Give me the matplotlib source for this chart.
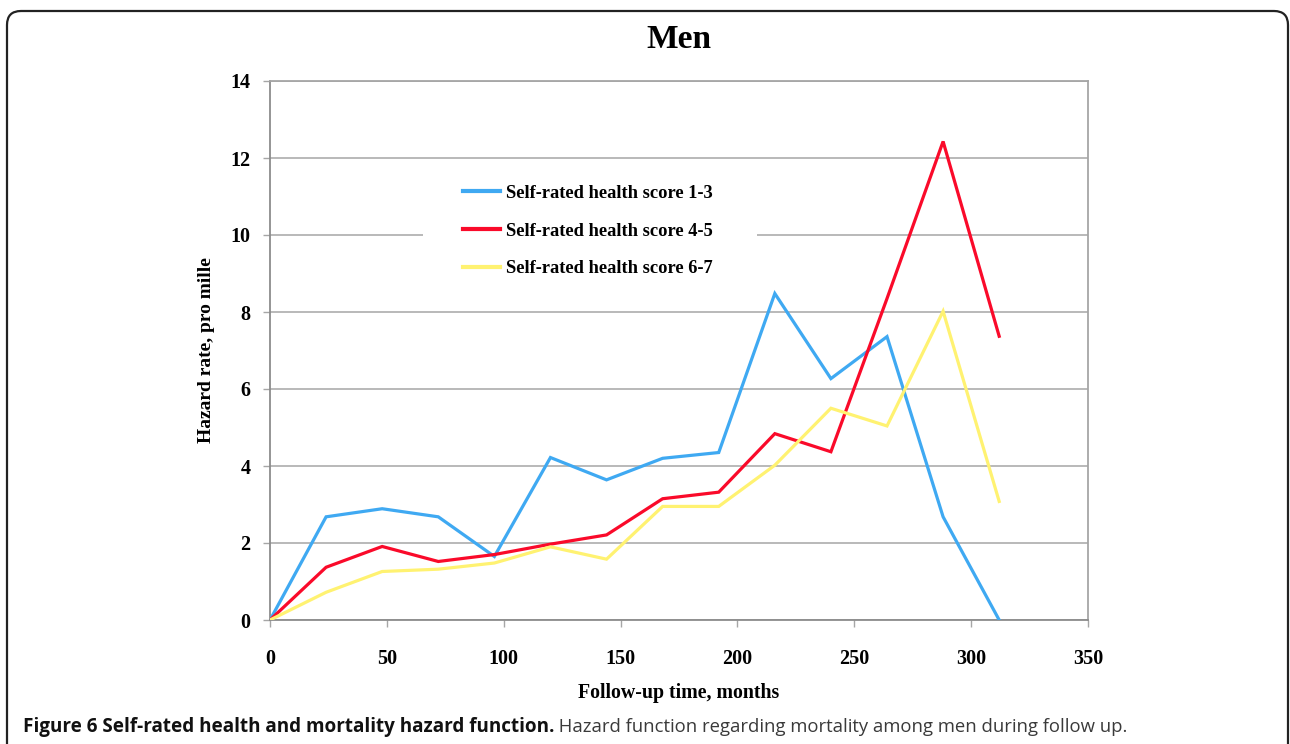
import matplotlib
matplotlib.use("Agg")
import matplotlib.pyplot as plt
from matplotlib.patches import FancyBboxPatch, Rectangle
from matplotlib.transforms import IdentityTransform

# ---- data ----
months = [0, 24, 48, 72, 96, 120, 144, 168, 192, 216, 240, 264, 288, 312]
score_1_3 = [0, 2.68, 2.89, 2.68, 1.65, 4.22, 3.64, 4.2, 4.35, 8.48, 6.27, 7.36, 2.68, 0]
score_4_5 = [0, 1.37, 1.91, 1.52, 1.70, 1.97, 2.21, 3.15, 3.32, 4.84, 4.37, 8.35, 12.43, 7.37]
score_6_7 = [0, 0.72, 1.26, 1.32, 1.48, 1.90, 1.58, 2.95, 2.95, 4.02, 5.50, 5.04, 8.02, 3.08]
series_labels = ["Self-rated health score 1-3", "Self-rated health score 4-5",
                 "Self-rated health score 6-7"]
series_colors = ["#3FA9F2", "#FA0A2A", "#FFF271"]
xticks = [0, 50, 100, 150, 200, 250, 300, 350]
yticks = [0, 2, 4, 6, 8, 10, 12, 14]
title = "Men"
xlabel = "Follow-up time, months"
ylabel = "Hazard rate, pro mille"
caption_bold = "Figure 6 Self-rated health and mortality hazard function."
caption_rest = " Hazard function regarding mortality among men during follow up."

W, H = 1290, 744
fig = plt.figure(figsize=(W / 100, H / 100), dpi=100)
fig.patch.set_facecolor("white")

ax = fig.add_axes([270 / W, 1 - 620 / H, (1088 - 270) / W, (620 - 81) / H])
serif = "Liberation Serif"
grid_c = "#A6A6A6"

for ys, lab, c in zip([score_1_3, score_4_5, score_6_7], series_labels, series_colors):
    ax.plot(months, ys, color=c, lw=2.3, label=lab, solid_joinstyle="miter", zorder=3)

ax.set_xlim(0, 350)
ax.set_ylim(0, 14)
ax.set_xticks(xticks)
ax.set_yticks(yticks)
ax.set_xticklabels([str(v) for v in xticks], fontfamily=serif, fontweight="bold", fontsize=14.5)
ax.set_yticklabels([str(v) for v in yticks], fontfamily=serif, fontweight="bold", fontsize=14.5)
ax.tick_params(axis="x", direction="out", length=5, width=1, color=grid_c, pad=16)
ax.tick_params(axis="y", direction="out", length=5, width=1, color=grid_c, pad=9)
ax.yaxis.grid(True, color=grid_c, lw=1.1)
ax.set_axisbelow(True)
for s in ax.spines.values():
    s.set_color(grid_c)
    s.set_linewidth(1.3)
ax.spines["left"].set_color("#8C8C8C")
ax.spines["bottom"].set_color("#8C8C8C")

ax.set_xlabel(xlabel, fontfamily=serif, fontweight="bold", fontsize=14.3, labelpad=10)
ax.set_ylabel(ylabel, fontfamily=serif, fontweight="bold", fontsize=14, labelpad=11)
ax.set_title(title, fontfamily=serif, fontweight="bold", fontsize=24, pad=24)

# white legend area (hides the gridline behind the legend block)
ax.add_patch(Rectangle((423, H - 292), 757 - 423, 292 - 168, transform=IdentityTransform(),
                       facecolor="white", edgecolor="none", zorder=1))

leg = ax.legend(loc="center", bbox_to_anchor=(588 / W, 1 - 231 / H),
                bbox_transform=fig.transFigure, frameon=False,
                prop={"family": serif, "weight": "bold", "size": 13.3},
                handlelength=2.0, handletextpad=0.35, labelspacing=1.12,
                borderpad=0.5, borderaxespad=0)
leg.set_zorder(5)
for lh in leg.get_lines():
    lh.set_linewidth(3)

# outer rounded border (pixel coordinates)
box = FancyBboxPatch((7, -30), 1281, H - 11 + 30,
                     boxstyle="round,pad=0,rounding_size=14",
                     transform=IdentityTransform(), fill=False,
                     edgecolor="#222222", lw=1.6)
fig.add_artist(box)

# caption
fig.canvas.draw()
r = fig.canvas.get_renderer()
t1 = fig.text(23 / W, 1 - 727 / H, caption_bold, fontfamily="Open Sans",
              fontweight="bold", fontsize=13.55, va="center", ha="left", color="#111111")
bb = t1.get_window_extent(renderer=r)
fig.text(bb.x1 / W, 1 - 727 / H, caption_rest, fontfamily="Open Sans",
         fontsize=13.35, va="center", ha="left", color="#3A3A3A")

fig.savefig("out.png", dpi=100)
